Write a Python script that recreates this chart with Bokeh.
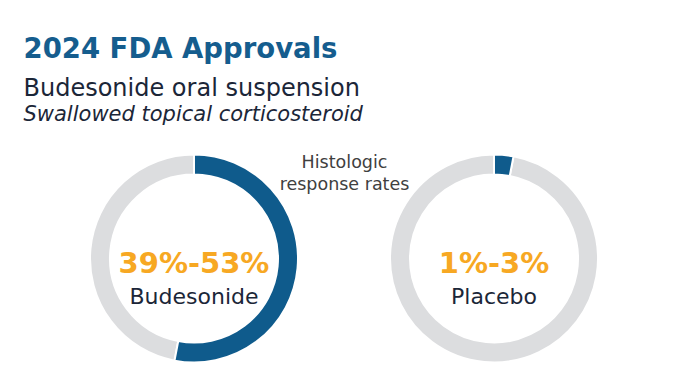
import math
from bokeh.plotting import figure
from bokeh.models import Range1d, ColumnDataSource
from bokeh.core.properties import value
from bokeh.embed import file_html
from bokeh.resources import INLINE

# ---- data ----
groups = ["Budesonide", "Placebo"]
rate_low = [39, 1]
rate_high = [53, 3]
rate_labels = ["39%-53%", "1%-3%"]
title = "2024 FDA Approvals"
subtitle = "Budesonide oral suspension"
subtitle2 = "Swallowed topical corticosteroid"
note_lines = ["Histologic", "response rates"]

# ---- layout (page pixel coords, y measured from bottom) ----
W, H = 674, 372
PAGE_H = 388
def Y(py):
    return PAGE_H - py

centers_x = [193.5, 493.5]
center_y = Y(258)
r_out, r_in = 104, 84
BLUE = "#0F5B8C"
GREY = "#DCDDDF"
ORANGE = "#F7A823"
NAVY = "#1B2638"
FONT = "DejaVu Sans"

p = figure(width=W, height=H, output_backend="svg", toolbar_location=None,
           x_range=Range1d(0, W), y_range=Range1d(Y(H), Y(0)),
           min_border=0)
p.axis.visible = False
p.grid.visible = False
p.outline_line_color = None
p.background_fill_color = "white"
p.border_fill_color = "white"

top = math.pi / 2
blue_start, blue_end, grey_start, grey_end = [], [], [], []
for hi in rate_high:
    ang = hi / 100 * 2 * math.pi
    # clockwise from top
    blue_start.append(top - ang)
    blue_end.append(top)
    grey_start.append(top)
    grey_end.append(top - ang)

src = ColumnDataSource(dict(x=centers_x, y=[center_y] * 2,
                            bs=blue_start, be=blue_end, gs=grey_start, ge=grey_end,
                            lab=rate_labels, grp=groups))

p.annular_wedge(x="x", y="y", inner_radius=r_in, outer_radius=r_out,
                start_angle="gs", end_angle="ge", direction="anticlock",
                fill_color=GREY, line_color="white", line_width=2, source=src)
p.annular_wedge(x="x", y="y", inner_radius=r_in, outer_radius=r_out,
                start_angle="bs", end_angle="be", direction="anticlock",
                fill_color=BLUE, line_color="white", line_width=2, source=src)

p.text(x="x", y=Y(262), text="lab", source=src, text_align="center",
       text_baseline="alphabetic", text_font=value(FONT), text_font_style="bold",
       text_font_size="29px", text_color=ORANGE)
p.text(x="x", y=Y(296), text="grp", source=src, text_align="center",
       text_baseline="alphabetic", text_font=value(FONT),
       text_font_size="22px", text_color=NAVY)

# titles
p.text(x=[23], y=[Y(47)], text=[title], text_font=value(FONT), text_font_style="bold",
       text_font_size="27.5px", text_color="#155D8E", text_baseline="alphabetic")
p.text(x=[23], y=[Y(87)], text=[subtitle], text_font=value(FONT),
       text_font_size="24px", text_color=NAVY, text_baseline="alphabetic")
p.text(x=[23], y=[Y(113)], text=[subtitle2], text_font=value(FONT), text_font_style="italic",
       text_font_size="21px", text_color=NAVY, text_baseline="alphabetic")

p.text(x=[344, 344], y=[Y(161), Y(183)], text=note_lines, text_align="center",
       text_font=value(FONT), text_font_size="17.5px", text_color="#404040",
       text_baseline="alphabetic")

open("out.html", "w").write(file_html(p, INLINE))
